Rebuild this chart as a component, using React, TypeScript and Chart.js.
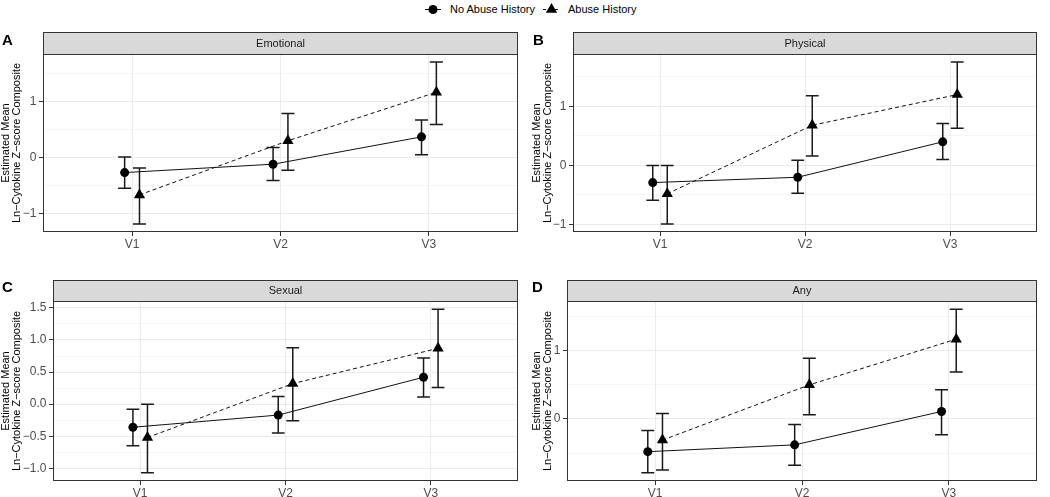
import React, { useEffect, useRef } from "react";
import { Chart, registerables } from "chart.js";

Chart.register(...registerables);

// ---------- data ----------
const visits = ["V1", "V2", "V3"];
const groupLabels = ["No Abuse History", "Abuse History"];
const yTitleLines = ["Estimated Mean", "Ln\u2212Cytokine Z\u2212score Composite"];
const facetNames = ["Emotional", "Physical", "Sexual", "Any"];
const panelLetters = ["A", "B", "C", "D"];

const emotionalNoAbuse = [-0.27, -0.12, 0.37];
const emotionalNoAbuseLow = [-0.55, -0.41, 0.05];
const emotionalNoAbuseHigh = [0.01, 0.18, 0.67];
const emotionalAbuse = [-0.67, 0.3, 1.17];
const emotionalAbuseLow = [-1.19, -0.23, 0.59];
const emotionalAbuseHigh = [-0.19, 0.79, 1.71];

const physicalNoAbuse = [-0.29, -0.2, 0.4];
const physicalNoAbuseLow = [-0.59, -0.47, 0.1];
const physicalNoAbuseHigh = [0.0, 0.09, 0.71];
const physicalAbuse = [-0.48, 0.68, 1.2];
const physicalAbuseLow = [-0.99, 0.16, 0.63];
const physicalAbuseHigh = [0.0, 1.18, 1.75];

const sexualNoAbuse = [-0.36, -0.17, 0.42];
const sexualNoAbuseLow = [-0.65, -0.45, 0.11];
const sexualNoAbuseHigh = [-0.08, 0.12, 0.72];
const sexualAbuse = [-0.52, 0.32, 0.87];
const sexualAbuseLow = [-1.07, -0.26, 0.26];
const sexualAbuseHigh = [0.0, 0.88, 1.48];

const anyNoAbuse = [-0.48, -0.38, 0.11];
const anyNoAbuseLow = [-0.79, -0.68, -0.23];
const anyNoAbuseHigh = [-0.17, -0.08, 0.43];
const anyAbuse = [-0.31, 0.5, 1.17];
const anyAbuseLow = [-0.75, 0.06, 0.69];
const anyAbuseHigh = [0.08, 0.89, 1.61];

const ticksUnit = [-1, 0, 1];
const ticksUnitLabels = ["\u22121", "0", "1"];
const minorUnit = [-1.5, -0.5, 0.5, 1.5];
const ticksHalf = [-1, -0.5, 0, 0.5, 1, 1.5];
const ticksHalfLabels = ["\u22121.0", "\u22120.5", "0.0", "0.5", "1.0", "1.5"];
const minorHalf = [-1.25, -0.75, -0.25, 0.25, 0.75, 1.25, 1.75];
const ticksAny = [0, 1];
const ticksAnyLabels = ["0", "1"];
const minorAny = [-0.5, 0.5, 1.5];

// ---------- styling / layout ----------
const FONT = "'Liberation Sans', Arial, Helvetica, sans-serif";
const DODGE = 0.05;
const CAP = 0.044;

type Spec = {
  no: number[]; noLo: number[]; noHi: number[];
  ab: number[]; abLo: number[]; abHi: number[];
  major: number[]; majorLabels: string[]; minor: number[];
};

const specs: Spec[] = [
  { no: emotionalNoAbuse, noLo: emotionalNoAbuseLow, noHi: emotionalNoAbuseHigh, ab: emotionalAbuse, abLo: emotionalAbuseLow, abHi: emotionalAbuseHigh, major: ticksUnit, majorLabels: ticksUnitLabels, minor: minorUnit },
  { no: physicalNoAbuse, noLo: physicalNoAbuseLow, noHi: physicalNoAbuseHigh, ab: physicalAbuse, abLo: physicalAbuseLow, abHi: physicalAbuseHigh, major: ticksUnit, majorLabels: ticksUnitLabels, minor: minorUnit },
  { no: sexualNoAbuse, noLo: sexualNoAbuseLow, noHi: sexualNoAbuseHigh, ab: sexualAbuse, abLo: sexualAbuseLow, abHi: sexualAbuseHigh, major: ticksHalf, majorLabels: ticksHalfLabels, minor: minorHalf },
  { no: anyNoAbuse, noLo: anyNoAbuseLow, noHi: anyNoAbuseHigh, ab: anyAbuse, abLo: anyAbuseLow, abHi: anyAbuseHigh, major: ticksAny, majorLabels: ticksAnyLabels, minor: minorAny },
];

const layouts = [
  { left: 0, top: 20, width: 525, height: 230, axisW: 43, padTop: 34, padRight: 7, stripH: 22, letterX: 2, letterY: 25, titleX: [6, 17] },
  { left: 525, top: 20, width: 525, height: 230, axisW: 48, padTop: 34, padRight: 13, stripH: 22, letterX: 8, letterY: 25, titleX: [11.5, 22.5] },
  { left: 0, top: 258, width: 525, height: 241, axisW: 53, padTop: 43, padRight: 7, stripH: 21, letterX: 2, letterY: 34, titleX: [6, 17] },
  { left: 525, top: 258, width: 525, height: 241, axisW: 42, padTop: 43, padRight: 13, stripH: 21, letterX: 7, letterY: 34, titleX: [11.5, 22.5] },
];

function Panel({ idx }: { idx: number }) {
  const ref = useRef<HTMLCanvasElement>(null);
  const spec = specs[idx];
  const lay = layouts[idx];

  useEffect(() => {
    const canvas = ref.current;
    if (!canvas) return;
    const all = [...spec.noLo, ...spec.noHi, ...spec.abLo, ...spec.abHi];
    const lo = Math.min(...all);
    const hi = Math.max(...all);
    const ex = (hi - lo) * 0.05;
    const yMin = lo - ex;
    const yMax = hi + ex;
    const majorSet = new Set(spec.major);
    const yTicks = [...spec.major, ...spec.minor]
      .filter((v) => v >= yMin && v <= yMax)
      .sort((a, b) => a - b);

    const deco = {
      id: "deco" + idx,
      beforeDatasetsDraw(chart: any) {
        const ctx = chart.ctx;
        const xs = chart.scales.x;
        const ys = chart.scales.y;
        const capPx = xs.getPixelForValue(1 + CAP) - xs.getPixelForValue(1);
        const groups = [
          { lo: spec.noLo, hi: spec.noHi, off: -DODGE },
          { lo: spec.abLo, hi: spec.abHi, off: DODGE },
        ];
        ctx.save();
        ctx.strokeStyle = "#1a1a1a";
        ctx.lineWidth = 1.5;
        groups.forEach((g) => {
          visits.forEach((_, i) => {
            const x = xs.getPixelForValue(i + 1 + g.off);
            const yl = ys.getPixelForValue(g.lo[i]);
            const yh = ys.getPixelForValue(g.hi[i]);
            ctx.beginPath();
            ctx.moveTo(x, yl);
            ctx.lineTo(x, yh);
            ctx.moveTo(x - capPx, yl);
            ctx.lineTo(x + capPx, yl);
            ctx.moveTo(x - capPx, yh);
            ctx.lineTo(x + capPx, yh);
            ctx.stroke();
          });
        });
        ctx.restore();
      },
      afterDraw(chart: any) {
        const ctx = chart.ctx;
        const a = chart.chartArea;
        ctx.save();
        // strip
        const sTop = a.top - lay.stripH;
        ctx.fillStyle = "#d9d9d9";
        ctx.fillRect(a.left, sTop, a.right - a.left, lay.stripH);
        ctx.strokeStyle = "#333333";
        ctx.lineWidth = 1;
        ctx.strokeRect(a.left + 0.5, sTop + 0.5, a.right - a.left - 1, lay.stripH);
        ctx.fillStyle = "#1a1a1a";
        ctx.font = `11px ${FONT}`;
        ctx.textAlign = "center";
        ctx.textBaseline = "middle";
        ctx.fillText(facetNames[idx], (a.left + a.right) / 2, sTop + lay.stripH / 2 + 0.5);
        // panel border
        ctx.strokeRect(a.left + 0.5, a.top + 0.5, a.right - a.left - 1, a.bottom - a.top - 1);
        // panel letter
        ctx.fillStyle = "#000";
        ctx.font = `bold 15px ${FONT}`;
        ctx.textAlign = "left";
        ctx.textBaseline = "alphabetic";
        ctx.fillText(panelLetters[idx], lay.letterX, lay.letterY);
        // y title
        ctx.font = `11px ${FONT}`;
        ctx.textAlign = "center";
        ctx.textBaseline = "middle";
        const cy = (a.top + a.bottom) / 2;
        yTitleLines.forEach((t, k) => {
          ctx.save();
          ctx.translate(lay.titleX[k], cy);
          ctx.rotate(-Math.PI / 2);
          ctx.fillText(t, 0, 0);
          ctx.restore();
        });
        ctx.restore();
      },
    };

    const chart = new Chart(canvas, {
      type: "line",
      data: {
        datasets: [
          {
            label: groupLabels[0],
            data: spec.no.map((v, i) => ({ x: i + 1 - DODGE, y: v })),
            borderColor: "#111",
            borderWidth: 1,
            pointStyle: "circle",
            pointRadius: 4.5,
            pointBackgroundColor: "#000",
            pointBorderColor: "#000",
            pointBorderWidth: 0,
            tension: 0,
          },
          {
            label: groupLabels[1],
            data: spec.ab.map((v, i) => ({ x: i + 1 + DODGE, y: v })),
            borderColor: "#111",
            borderWidth: 1,
            borderDash: [4, 3],
            pointStyle: "triangle",
            pointRadius: 6.5,
            pointBackgroundColor: "#000",
            pointBorderColor: "#000",
            pointBorderWidth: 0,
            tension: 0,
          },
        ],
      },
      options: {
        animation: false,
        responsive: false,
        devicePixelRatio: 1,
        layout: { padding: { top: lay.padTop, right: lay.padRight, bottom: 0, left: 0 } },
        plugins: { legend: { display: false }, tooltip: { enabled: false } },
        scales: {
          x: {
            type: "linear",
            min: 0.4,
            max: 3.6,
            afterBuildTicks: (s: any) => {
              s.ticks = visits.map((_, i) => ({ value: i + 1 }));
            },
            afterFit: (s: any) => {
              s.height = 18;
            },
            ticks: {
              autoSkip: false,
              maxRotation: 0,
              padding: 1,
              color: "#4d4d4d",
              font: { family: FONT, size: 12 },
              callback: (v: any) => visits[Math.round(Number(v)) - 1] ?? "",
            },
            grid: { color: "#ebebeb", lineWidth: 1, tickColor: "#333333", tickLength: 4, tickWidth: 1 },
            border: { display: false },
          },
          y: {
            type: "linear",
            min: yMin,
            max: yMax,
            afterBuildTicks: (s: any) => {
              s.ticks = yTicks.map((v) => ({ value: v }));
            },
            afterFit: (s: any) => {
              s.width = lay.axisW;
            },
            ticks: {
              autoSkip: false,
              padding: 2.5,
              color: "#4d4d4d",
              font: { family: FONT, size: 12 },
              callback: (v: any) => {
                const k = spec.major.indexOf(Number(v));
                return k >= 0 ? spec.majorLabels[k] : "";
              },
            },
            grid: {
              color: "#ebebeb",
              lineWidth: (c: any) => (c.tick && majorSet.has(c.tick.value) ? 1 : 0.5),
              tickColor: (c: any) => (c.tick && majorSet.has(c.tick.value) ? "#333333" : "rgba(0,0,0,0)"),
              tickLength: 4,
              tickWidth: 1,
            },
            border: { display: false },
          },
        },
      },
      plugins: [deco],
    } as any);
    return () => chart.destroy();
  }, []);

  return (
    <canvas
      ref={ref}
      width={lay.width}
      height={lay.height}
      style={{ position: "absolute", left: lay.left, top: lay.top, width: lay.width, height: lay.height }}
    />
  );
}

function Legend() {
  const tri = (cx: number, cy: number, r: number) =>
    `${cx},${cy - r} ${cx + r * 0.866},${cy + r / 2} ${cx - r * 0.866},${cy + r / 2}`;
  const textStyle: React.CSSProperties = {
    position: "absolute",
    top: 2,
    fontFamily: FONT,
    fontSize: 11,
    lineHeight: "14px",
    color: "#000",
    whiteSpace: "nowrap",
  };
  return (
    <div style={{ position: "absolute", left: 0, top: 0, width: 1050, height: 20 }}>
      <svg width={1050} height={20} style={{ position: "absolute", left: 0, top: 0 }}>
        <line x1={425} x2={441} y1={9.5} y2={9.5} stroke="#111" strokeWidth={1} />
        <circle cx={433} cy={9.5} r={4.5} fill="#000" />
        <line x1={543} x2={560} y1={9.5} y2={9.5} stroke="#111" strokeWidth={1} strokeDasharray="3 3" />
        <polygon points={tri(551.5, 9.5, 6.5)} fill="#000" />
      </svg>
      <span style={{ ...textStyle, left: 450 }}>{groupLabels[0]}</span>
      <span style={{ ...textStyle, left: 568 }}>{groupLabels[1]}</span>
    </div>
  );
}

export default function App() {
  return (
    <div
      style={{
        position: "fixed",
        left: 0,
        top: 0,
        width: 1050,
        height: 497,
        overflow: "hidden",
        background: "#fff",
      }}
    >
      <Legend />
      {specs.map((_, i) => (
        <Panel key={i} idx={i} />
      ))}
    </div>
  );
}
